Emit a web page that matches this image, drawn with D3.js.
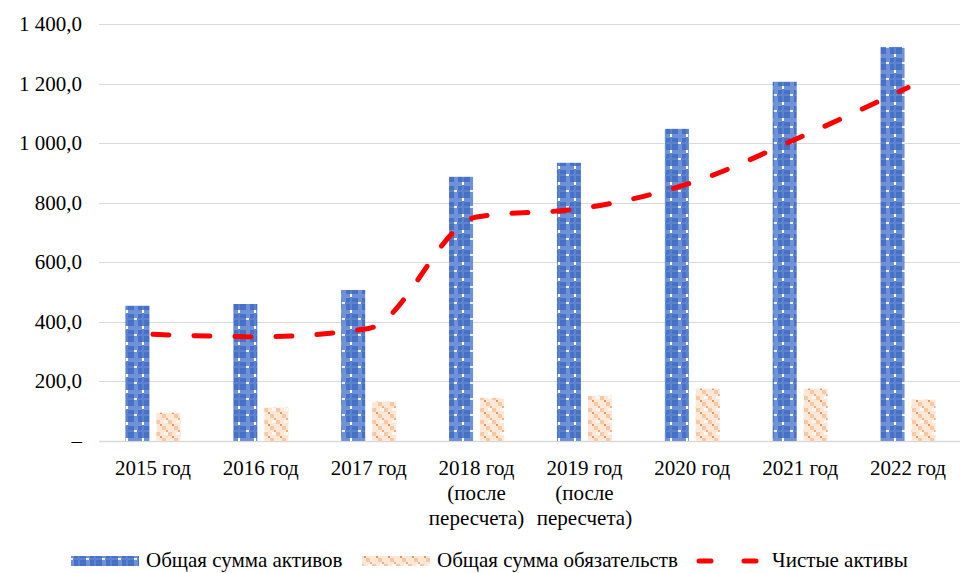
<!DOCTYPE html>
<html>
<head>
<meta charset="utf-8">
<script src="https://cdn.jsdelivr.net/npm/d3@7"></script>
<style>
  body { margin: 0; background: #fff; }
</style>
</head>
<body>
<svg id="chart" width="961" height="573" font-family="'Liberation Serif', 'DejaVu Serif', 'Noto Serif', Tinos, Times, 'Times New Roman', serif"></svg>
<script>
// data
let years = ["2015 год", "2016 год", "2017 год", "2018 год (после пересчета)",
             "2019 год (после пересчета)", "2020 год", "2021 год", "2022 год"];
let assets = [454, 460, 507, 887, 934, 1048, 1206, 1323];
let liabilities = [95, 112, 132, 145, 152, 176, 176, 139];
let netAssets = [358, 350, 378, 752, 782, 868, 1020, 1187];
let yTicks = [0, 200, 400, 600, 800, 1000, 1200, 1400];
let legendNames = ["Общая сумма активов", "Общая сумма обязательств", "Чистые активы"];

let svg = d3.select("#chart");
let plotL = 99, plotR = 962, plotT = 24, plotB = 441;
let fs = 21;

let x = d3.scaleBand().domain(years).range([plotL, plotR]);
let y = d3.scaleLinear().domain([0, 1400]).range([plotB, plotT]);

//? patterns
let defs = svg.append("defs");
let pb = defs.append("pattern").attr("id", "blueChk")
    .attr("patternUnits", "userSpaceOnUse").attr("width", 16).attr("height", 16);
pb.append("rect").attr("width", 16).attr("height", 16).attr("fill", "#4672c6");
pb.append("rect").attr("x", 0).attr("y", 6).attr("width", 16).attr("height", 4).attr("fill", "#7091d6");
pb.append("rect").attr("x", 6).attr("y", 0).attr("width", 4).attr("height", 16).attr("fill", "#7091d6");
pb.append("rect").attr("x", 0).attr("y", 14).attr("width", 16).attr("height", 2).attr("fill", "#5d82cf");
pb.append("rect").attr("x", 14).attr("y", 0).attr("width", 2).attr("height", 16).attr("fill", "#5d82cf");
pb.append("rect").attr("x", 14).attr("y", 6).attr("width", 2).attr("height", 3).attr("fill", "#ffffff");
pb.append("rect").attr("x", 6).attr("y", 14).attr("width", 3).attr("height", 2).attr("fill", "#e8eefa");

let po = defs.append("pattern").attr("id", "orangeChk")
    .attr("patternUnits", "userSpaceOnUse").attr("width", 12).attr("height", 12);
po.append("rect").attr("width", 12).attr("height", 12).attr("fill", "#fde8d8");
po.append("rect").attr("x", 0).attr("y", 0).attr("width", 4).attr("height", 4).attr("fill", "#f8c8a4");
po.append("rect").attr("x", 6).attr("y", 6).attr("width", 4).attr("height", 4).attr("fill", "#f8c8a4");
po.append("rect").attr("x", 4).attr("y", 4).attr("width", 2).attr("height", 2).attr("fill", "#f0955a");
po.append("rect").attr("x", 10).attr("y", 10).attr("width", 2).attr("height", 2).attr("fill", "#f4ad7c");
po.append("rect").attr("x", 8).attr("y", 0).attr("width", 4).attr("height", 3).attr("fill", "#fff7f1");

//? grid + y labels
let fmt = v => v === 0 ? "–" : d3.format(",.1f")(v).replace(/,/g, " ").replace(".", ",");
svg.append("g").selectAll("line").data(yTicks).enter().append("line")
    .attr("x1", plotL).attr("x2", plotR - 2)
    .attr("y1", d => Math.round(y(d)) + 0.5).attr("y2", d => Math.round(y(d)) + 0.5)
    .attr("stroke", "#d9d9d9").attr("stroke-width", d => d === 0 ? 1.5 : 1.2);
svg.append("g").selectAll("text").data(yTicks).enter().append("text")
    .attr("x", 82).attr("y", d => y(d) + 7)
    .attr("text-anchor", "end").attr("font-size", fs)
    .text(fmt);

//? bars
let bw = 24, gap = 7;
svg.append("g").selectAll("rect").data(years).enter().append("rect")
    .attr("x", d => x(d) + x.bandwidth() / 2 - gap / 2 - bw)
    .attr("y", (d, i) => y(assets[i]))
    .attr("width", bw)
    .attr("height", (d, i) => plotB - y(assets[i]))
    .attr("fill", "url(#blueChk)");
svg.append("g").selectAll("rect").data(years).enter().append("rect")
    .attr("x", d => x(d) + x.bandwidth() / 2 + gap / 2)
    .attr("y", (d, i) => y(liabilities[i]))
    .attr("width", bw)
    .attr("height", (d, i) => plotB - y(liabilities[i]))
    .attr("fill", "url(#orangeChk)");

//? net assets line
let line = d3.line()
    .x((d, i) => x(years[i]) + x.bandwidth() / 2)
    .y(d => y(d))
    .curve(d3.curveMonotoneX);
svg.append("path").datum(netAssets)
    .attr("d", line)
    .attr("fill", "none")
    .attr("stroke", "#ff0000")
    .attr("stroke-width", 5)
    .attr("stroke-linecap", "round")
    .attr("stroke-dasharray", "16,25");

//? x labels
let xl = svg.append("g").selectAll("text").data(years).enter().append("text")
    .attr("text-anchor", "middle").attr("font-size", fs)
    .attr("x", d => x(d) + x.bandwidth() / 2)
    .attr("y", 475);
xl.each(function (d) {
    let parts = d.match(/^(\S+ год)(?: (\(после) (пересчета\)))?$/);
    let lines = parts[2] ? [parts[1], parts[2], parts[3]] : [parts[1]];
    d3.select(this).selectAll("tspan").data(lines).enter().append("tspan")
        .attr("x", x(d) + x.bandwidth() / 2)
        .attr("dy", (l, i) => i === 0 ? 0 : 25)
        .text(l => l);
});

//? legend
let lg = svg.append("g");
lg.append("rect").attr("x", 71).attr("y", 556).attr("width", 68).attr("height", 10).attr("fill", "url(#blueChk)");
lg.append("text").attr("x", 146).attr("y", 567).attr("font-size", fs).text(legendNames[0]);
lg.append("rect").attr("x", 362).attr("y", 556).attr("width", 68).attr("height", 10).attr("fill", "url(#orangeChk)");
lg.append("text").attr("x", 437).attr("y", 567).attr("font-size", fs).text(legendNames[1]);
lg.append("line").attr("x1", 699).attr("x2", 756).attr("y1", 561).attr("y2", 561)
    .attr("stroke", "#ff0000").attr("stroke-width", 5).attr("stroke-linecap", "round")
    .attr("stroke-dasharray", "12,33");
lg.append("text").attr("x", 772).attr("y", 567).attr("font-size", fs).text(legendNames[2]);
</script>
</body>
</html>
